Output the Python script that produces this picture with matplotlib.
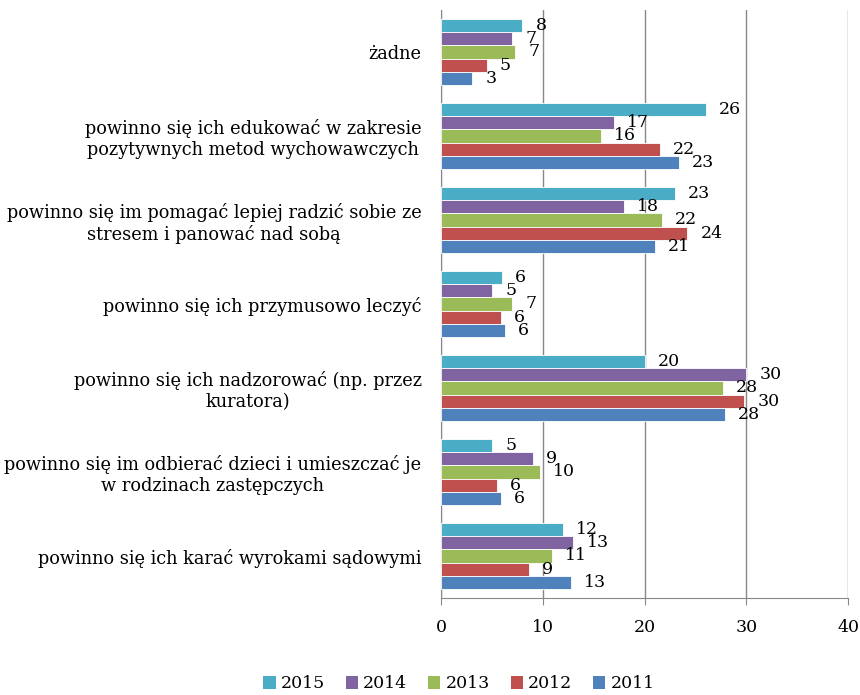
import numpy as np
import matplotlib
matplotlib.use("Agg")
import matplotlib.pyplot as plt
from matplotlib.patches import Patch

plt.rcParams.update({
    "font.family": "DejaVu Serif",
    "font.size": 12.5,
})

categories = [
    "żadne",
    "powinno się ich edukować w zakresie\npozytywnych metod wychowawczych",
    "powinno się im pomagać lepiej radzić sobie ze\nstresem i panować nad sobą",
    "powinno się ich przymusowo leczyć",
    "powinno się ich nadzorować (np. przez\nkuratora)",
    "powinno się im odbierać dzieci i umieszczać je\nw rodzinach zastępczych",
    "powinno się ich karać wyrokami sądowymi",
]
years = ["2015", "2014", "2013", "2012", "2011"]
colors = ["#4BACC6", "#8064A2", "#9BBB59", "#C0504D", "#4F81BD"]

# bar lengths (unrounded) and the labels shown on the chart
values = {
    "2015": [8.0, 26.0, 23.0, 6.0, 20.0, 5.0, 12.0],
    "2014": [7.0, 17.0, 18.0, 5.0, 30.0, 9.0, 13.0],
    "2013": [7.3, 15.7, 21.7, 7.0, 27.7, 9.7, 10.9],
    "2012": [4.5, 21.5, 24.2, 5.9, 29.8, 5.5, 8.6],
    "2011": [3.05, 23.4, 21.0, 6.3, 27.9, 5.9, 12.8],
}
labels = {
    "2015": [8, 26, 23, 6, 20, 5, 12],
    "2014": [7, 17, 18, 5, 30, 9, 13],
    "2013": [7, 16, 22, 7, 28, 10, 11],
    "2012": [5, 22, 24, 6, 30, 6, 9],
    "2011": [3, 23, 21, 6, 28, 6, 13],
}
xticks = [0, 10, 20, 30, 40]

fig = plt.figure(figsize=(8.6, 6.95), dpi=100)
ax = fig.add_axes([441 / 860, 1 - 598 / 695, 407 / 860, 588 / 695])

y = np.arange(len(categories))
h = 0.155
for j, yr in enumerate(years):
    pos = y + (j - 2) * h
    ax.barh(pos, values[yr], height=h, color=colors[j], edgecolor="white",
            linewidth=0.6, zorder=3)
    for p, v, lab in zip(pos, values[yr], labels[yr]):
        ax.annotate(str(lab), (v, p), xytext=(9.5, 0), textcoords="offset points",
                    va="center", ha="left", fontsize=12.5, zorder=4)

ax.set_xlim(0, 40)
ax.set_ylim(len(categories) - 0.5, -0.5)
ax.set_xticks(xticks)
ax.set_yticks(y)
ax.set_yticklabels(categories, multialignment="center", fontsize=12.8)
ax.tick_params(axis="y", length=0, pad=14)
ax.tick_params(axis="x", length=5, color="#888888", pad=10)
ax.grid(axis="x", color="#888888", linewidth=1, zorder=0)
for s in ["top", "right"]:
    ax.spines[s].set_visible(False)
ax.spines["left"].set_color("#888888")
ax.spines["bottom"].set_color("#888888")

handles = [Patch(facecolor=c, label=yr) for c, yr in zip(colors, years)]
fig.legend(handles=handles, loc="center", bbox_to_anchor=(459 / 860, 1 - 684 / 695),
           ncol=5, frameon=False, handlelength=0.7, handleheight=0.7,
           columnspacing=1.2, handletextpad=0.3, fontsize=12.5,
           borderpad=0, borderaxespad=0)

fig.savefig("out.png", dpi=100)
